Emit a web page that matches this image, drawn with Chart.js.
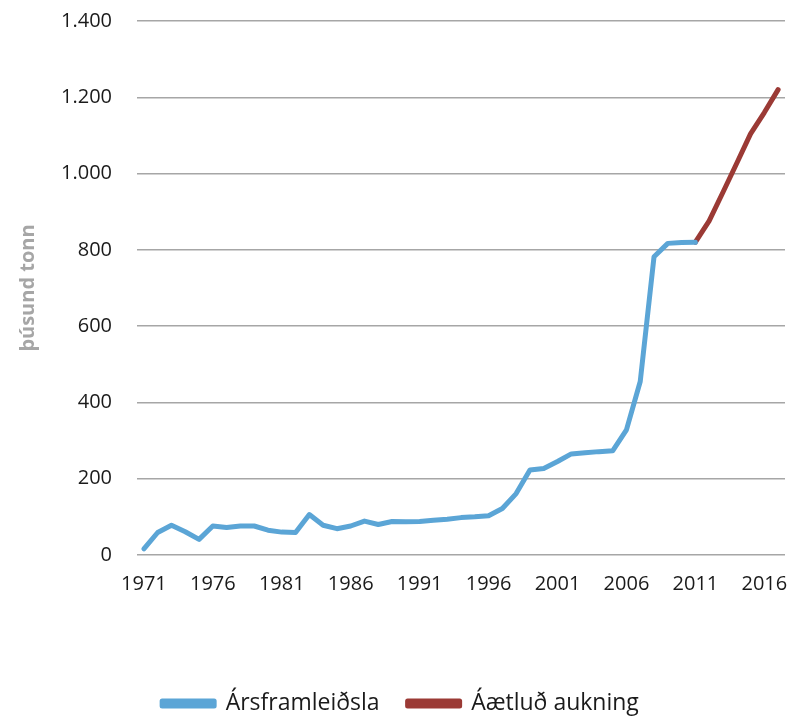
<!DOCTYPE html>
<html>
<head>
<meta charset="utf-8">
<script src="https://cdn.jsdelivr.net/npm/chart.js@4"></script>
<style>
  html, body { margin: 0; padding: 0; background: #fff; }
  #wrap { width: 805px; height: 717px; }
</style>
</head>
<body>
<div id="wrap"><canvas id="chart" width="805" height="717"></canvas></div>
<script>
// years on the category axis
const years = [];
for (let y = 1971; y <= 2017; y++) years.push(String(y));

// annual production 1971-2011 (þúsund tonn)
const production = [
  16, 59, 78, 61, 41, 76, 72, 76, 76, 65,
  60, 59, 106, 78, 69, 76, 89, 80, 88, 87,
  88, 91, 94, 98, 100, 103, 122, 161, 223, 227,
  245, 265, 268, 271, 273, 328, 455, 782, 817, 819,
  820
];

// planned increase 2011-2017
const planned = [820, 876, 951, 1027, 1104, 1160, 1220];

const yTicks = [0, 200, 400, 600, 800, 1000, 1200, 1400];

const colors = {
  blue: "#5ba5d6",
  red: "#9b3a35",
  grid: "#a6a6a6",
  text: "#1a1a1a",
  title: "#a6a6a6"
};

const prodData = years.map((y, i) => i < production.length ? production[i] : null);
const planData = years.map((y, i) => {
  const k = i - (production.length - 1);
  return k >= 0 ? planned[k] : null;
});

function fmt(v) {
  return String(v).replace(/\B(?=(\d{3})+(?!\d))/g, ".");
}

const font = { family: "'Open Sans', 'Noto Sans', sans-serif", size: 20 };

new Chart(document.getElementById("chart"), {
  type: "line",
  data: {
    labels: years,
    datasets: [{
      label: "Ársframleiðsla",
      data: prodData,
      borderColor: colors.blue,
      backgroundColor: colors.blue,
      borderWidth: 5,
      pointRadius: 0,
      tension: 0,
      borderJoinStyle: "round",
      borderCapStyle: "round"
    }, {
      label: "Áætluð aukning",
      data: planData,
      borderColor: colors.red,
      backgroundColor: colors.red,
      borderWidth: 5,
      pointRadius: 0,
      tension: 0,
      borderJoinStyle: "round",
      borderCapStyle: "round"
    }]
  },
  options: {
    responsive: false,
    animation: false,
    layout: { padding: { top: 21, right: 20, left: 16, bottom: -8 } },
    plugins: {
      legend: {
        position: "bottom",
        labels: {
          font: { family: font.family, size: 23 },
          color: colors.text,
          boxWidth: 52,
          boxHeight: 5,
          padding: 28
        }
      },
      tooltip: { enabled: false }
    },
    scales: {
      x: {
        offset: true,
        grid: { display: false },
        border: { display: false },
        ticks: {
          autoSkip: false,
          maxRotation: 0,
          minRotation: 0,
          font: font,
          color: colors.text,
          padding: 9,
          callback: function (v, i) { return i % 5 === 0 ? years[i] : ""; }
        },
        afterFit: function (scale) { scale.height += 59; }
      },
      y: {
        min: 0,
        max: 1400,
        afterBuildTicks: function (scale) {
          scale.ticks = yTicks.map(v => ({ value: v }));
        },
        afterFit: function (scale) {
          scale.width = 121;
          scale.paddingTop = 0;
        },
        grid: { color: colors.grid, lineWidth: 1.5, drawTicks: false },
        border: { display: false },
        ticks: {
          font: font,
          color: colors.text,
          padding: 25,
          callback: function (v) { return fmt(v); }
        },
        title: {
          display: true,
          text: "þúsund tonn",
          color: colors.title,
          font: { family: font.family, size: 20, weight: "bold" },
          padding: { top: 0, bottom: 18 }
        }
      }
    }
  }
});
</script>
</body>
</html>
